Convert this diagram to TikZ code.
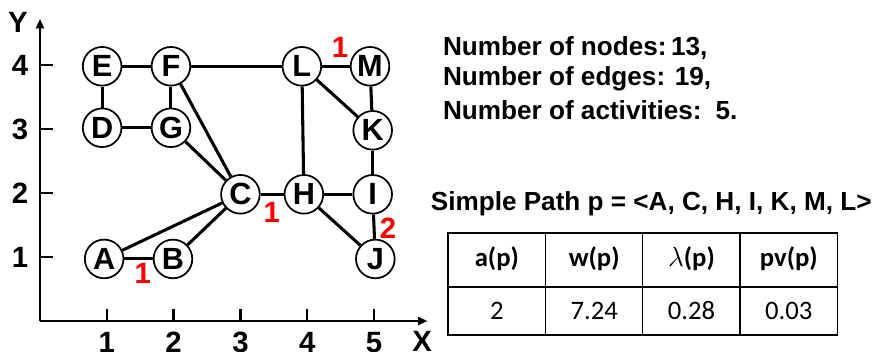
\documentclass[tikz,border=0pt]{standalone}
\usepackage{fontspec}
\setmainfont{Liberation Sans}
\newfontfamily\cellfont{Carlito}
\usepackage{xcolor}
\definecolor{WeightRed}{RGB}{255,0,0}
\usetikzlibrary{arrows.meta, positioning}
\tikzset{
  % graph vertex
  vertex/.style={
    circle, draw=black, line width=1.3pt, fill=white,
    minimum size=29pt, inner sep=0pt,
    font=\fontsize{23}{23}\selectfont\bfseries
  },
  % graph edge
  link/.style={line width=2.3pt, black},
  % axes
  axisline/.style={line width=1.5pt, -{Triangle[length=7pt,width=6pt]}},
  tickmark/.style={line width=1.8pt},
  ticklabel/.style={font=\fontsize{22}{22}\selectfont\bfseries},
  % red edge weights
  weight/.style={text=WeightRed, font=\fontsize{22}{22}\selectfont\bfseries},
  % text on the right
  info/.style={anchor=west, inner sep=0pt, font=\fontsize{19.6}{19.6}\selectfont\bfseries},
  % table cells
  cell/.style={
    draw, line width=1pt, inner sep=0pt, outer sep=0pt,
    minimum width=73pt, minimum height=36pt,
    text height=13pt, text depth=0pt,
    font=\cellfont\fontsize{20}{20}\selectfont
  },
  headcell/.style={cell, minimum height=40.5pt, text height=14pt, text depth=4pt,
    font=\cellfont\fontsize{20}{20}\selectfont\bfseries},
}

\begin{document}
\begin{tikzpicture}[x=50.1pt, y=48pt]
  \useasboundingbox (-0.599,-0.469) rectangle (12.575,5.016);

  % axes
  \draw[axisline] (0,0) -- (5.8,0);
  \draw[axisline] (0,0) -- (0,4.72);
  \node[ticklabel] (xlab) at (5.72,-0.32) {X};
  \node[ticklabel] (ylab) at (-0.33,4.67) {Y};
  \foreach \i in {1,...,5}
  {
    \draw[tickmark] (\i,0) -- (\i,0.19);
    \node[ticklabel] at (\i,-0.33) {\i};
  }
  \foreach \j in {1,...,4}
  {
    \draw[tickmark] (0,\j) -- (0.2,\j);
    \node[ticklabel] at (-0.30,\j) {\j};
  }

  % vertices
  \node[vertex] (A) at (0.96,0.97) {A};
  \node[vertex] (B) at (1.99,0.97) {B};
  \node[vertex] (C) at (3.0,1.98) {C};
  \node[vertex] (D) at (0.93,3.02) {D};
  \node[vertex] (E) at (0.93,3.98) {E};
  \node[vertex] (F) at (1.96,3.98) {F};
  \node[vertex] (G) at (1.96,3.02) {G};
  \node[vertex] (H) at (3.95,1.98) {H};
  \node[vertex] (I) at (4.98,1.98) {I};
  \node[vertex] (J) at (5.02,0.97) {J};
  \node[vertex] (K) at (4.98,2.98) {K};
  \node[vertex] (L) at (3.92,3.98) {L};
  \node[vertex] (M) at (4.94,3.98) {M};

  % edges
  \foreach \u/\v in {E/F, E/D, D/G, F/G, F/C, F/L, G/C, L/M, L/K, L/H,
                     M/K, K/I, C/H, H/I, H/J, I/J, A/C, B/C, A/B}
    \draw[link] (\u) -- (\v);

  % activity weights
  \node[weight] (w1) at (4.49,4.28) {1};
  \node[weight] (w2) at (3.47,1.70) {1};
  \node[weight] (w3) at (1.54,0.75) {1};
  \node[weight] (w4) at (5.21,1.45) {2};

  % summary
  \node[info] (nodes) at (6.03,4.27) {Number of nodes:\,13,};
  \node[info] (edges) at (6.03,3.78) {Number of edges: 19,};
  \node[info] (acts)  at (6.03,3.30) {Number of activities:\, 5.};
  \node[info, anchor=center] (path) at (9.15,1.84) {Simple Path p = <A, C, H, I, K, M, L>};

  % result table
  \node[headcell, anchor=north west] (h1) at (6.11,1.375) {a(p)};
  \node[headcell, right=0pt of h1] (h2) {w(p)};
  \node[headcell, right=0pt of h2] (h3) {$\lambda$(p)};
  \node[headcell, right=0pt of h3] (h4) {pv(p)};
  \node[cell, below=0pt of h1] (v1) {2};
  \node[cell, below=0pt of h2] (v2) {7.24};
  \node[cell, below=0pt of h3] (v3) {0.28};
  \node[cell, below=0pt of h4] (v4) {0.03};
\end{tikzpicture}
\end{document}
